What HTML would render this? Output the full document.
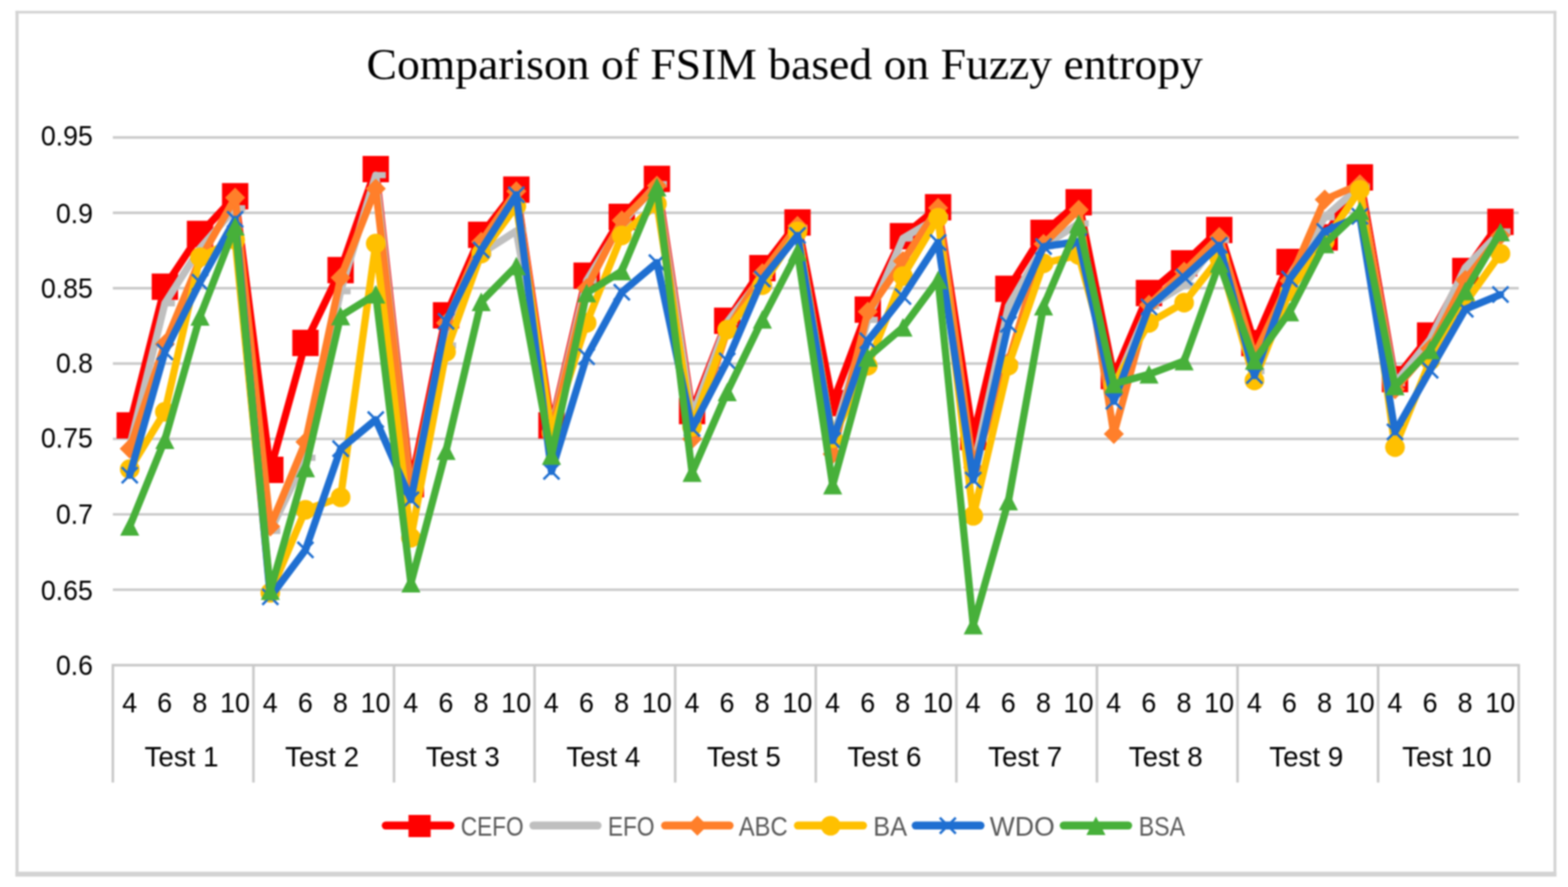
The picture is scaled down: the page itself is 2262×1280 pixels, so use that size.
<!DOCTYPE html>
<html lang="en"><head><meta charset="utf-8"><title>Comparison of FSIM based on Fuzzy entropy</title>
<style>html,body{margin:0;padding:0;background:#fff}body{width:2262px;height:1280px;overflow:hidden}svg{display:block;filter:blur(0.8px)}.ax{font-family:"Liberation Sans",sans-serif;font-size:40px;fill:#000}.lg{font-family:"Liberation Sans",sans-serif;font-size:39.5px;fill:#595959}.tt{font-family:"Liberation Serif",serif;font-size:63.6px;fill:#000}</style></head><body>
<svg width="2262" height="1280" viewBox="0 0 2262 1280">
<rect x="0" y="0" width="2262" height="1280" fill="#ffffff"/>
<g fill="#d3d3d3">
<rect x="22.4" y="15.7" width="2222.8" height="3.7"/>
<rect x="22.4" y="15.7" width="4.4" height="1249.3"/>
<rect x="2241.1" y="15.7" width="4.1" height="1249.3"/>
<rect x="22.4" y="1257.9" width="2222.8" height="7.1"/>
</g>
<text class="tt" x="1132" y="113.8" text-anchor="middle" textLength="1206.5" lengthAdjust="spacingAndGlyphs">Comparison of FSIM based on Fuzzy entropy</text>
<g stroke="#c9c9c9" stroke-width="3.7" fill="none">
<line x1="162.8" y1="851.02" x2="2190.9" y2="851.02"/>
<line x1="162.8" y1="742.24" x2="2190.9" y2="742.24"/>
<line x1="162.8" y1="633.46" x2="2190.9" y2="633.46"/>
<line x1="162.8" y1="524.68" x2="2190.9" y2="524.68"/>
<line x1="162.8" y1="415.9" x2="2190.9" y2="415.9"/>
<line x1="162.8" y1="307.12" x2="2190.9" y2="307.12"/>
<line x1="162.8" y1="198.34" x2="2190.9" y2="198.34"/>
<line x1="161.1" y1="959.8" x2="2192.6" y2="959.8"/>
<line x1="162.8" y1="959.8" x2="162.8" y2="1129.3"/>
<line x1="365.61" y1="959.8" x2="365.61" y2="1129.3"/>
<line x1="568.42" y1="959.8" x2="568.42" y2="1129.3"/>
<line x1="771.23" y1="959.8" x2="771.23" y2="1129.3"/>
<line x1="974.04" y1="959.8" x2="974.04" y2="1129.3"/>
<line x1="1176.85" y1="959.8" x2="1176.85" y2="1129.3"/>
<line x1="1379.66" y1="959.8" x2="1379.66" y2="1129.3"/>
<line x1="1582.47" y1="959.8" x2="1582.47" y2="1129.3"/>
<line x1="1785.28" y1="959.8" x2="1785.28" y2="1129.3"/>
<line x1="1988.09" y1="959.8" x2="1988.09" y2="1129.3"/>
<line x1="2190.9" y1="959.8" x2="2190.9" y2="1129.3"/>
</g>
<g class="ax" text-anchor="end">
<text x="134" y="973.7" textLength="53.3" lengthAdjust="spacingAndGlyphs">0.6</text>
<text x="134" y="865.7" textLength="75.1" lengthAdjust="spacingAndGlyphs">0.65</text>
<text x="134" y="756.4" textLength="53.3" lengthAdjust="spacingAndGlyphs">0.7</text>
<text x="134" y="646.1" textLength="75.1" lengthAdjust="spacingAndGlyphs">0.75</text>
<text x="134" y="537.5" textLength="53.3" lengthAdjust="spacingAndGlyphs">0.8</text>
<text x="134" y="429.6" textLength="75.1" lengthAdjust="spacingAndGlyphs">0.85</text>
<text x="134" y="321.7" textLength="53.3" lengthAdjust="spacingAndGlyphs">0.9</text>
<text x="134" y="209.9" textLength="75.1" lengthAdjust="spacingAndGlyphs">0.95</text>
</g>
<g class="ax" text-anchor="middle">
<text x="186.95" y="1027.8" textLength="21.6" lengthAdjust="spacingAndGlyphs">4</text>
<text x="237.65" y="1027.8" textLength="21.6" lengthAdjust="spacingAndGlyphs">6</text>
<text x="288.36" y="1027.8" textLength="21.6" lengthAdjust="spacingAndGlyphs">8</text>
<text x="339.06" y="1027.8" textLength="43.2" lengthAdjust="spacingAndGlyphs">10</text>
<text x="389.76" y="1027.8" textLength="21.6" lengthAdjust="spacingAndGlyphs">4</text>
<text x="440.46" y="1027.8" textLength="21.6" lengthAdjust="spacingAndGlyphs">6</text>
<text x="491.17" y="1027.8" textLength="21.6" lengthAdjust="spacingAndGlyphs">8</text>
<text x="541.87" y="1027.8" textLength="43.2" lengthAdjust="spacingAndGlyphs">10</text>
<text x="592.57" y="1027.8" textLength="21.6" lengthAdjust="spacingAndGlyphs">4</text>
<text x="643.27" y="1027.8" textLength="21.6" lengthAdjust="spacingAndGlyphs">6</text>
<text x="693.98" y="1027.8" textLength="21.6" lengthAdjust="spacingAndGlyphs">8</text>
<text x="744.68" y="1027.8" textLength="43.2" lengthAdjust="spacingAndGlyphs">10</text>
<text x="795.38" y="1027.8" textLength="21.6" lengthAdjust="spacingAndGlyphs">4</text>
<text x="846.08" y="1027.8" textLength="21.6" lengthAdjust="spacingAndGlyphs">6</text>
<text x="896.79" y="1027.8" textLength="21.6" lengthAdjust="spacingAndGlyphs">8</text>
<text x="947.49" y="1027.8" textLength="43.2" lengthAdjust="spacingAndGlyphs">10</text>
<text x="998.19" y="1027.8" textLength="21.6" lengthAdjust="spacingAndGlyphs">4</text>
<text x="1048.89" y="1027.8" textLength="21.6" lengthAdjust="spacingAndGlyphs">6</text>
<text x="1099.6" y="1027.8" textLength="21.6" lengthAdjust="spacingAndGlyphs">8</text>
<text x="1150.3" y="1027.8" textLength="43.2" lengthAdjust="spacingAndGlyphs">10</text>
<text x="1201" y="1027.8" textLength="21.6" lengthAdjust="spacingAndGlyphs">4</text>
<text x="1251.7" y="1027.8" textLength="21.6" lengthAdjust="spacingAndGlyphs">6</text>
<text x="1302.41" y="1027.8" textLength="21.6" lengthAdjust="spacingAndGlyphs">8</text>
<text x="1353.11" y="1027.8" textLength="43.2" lengthAdjust="spacingAndGlyphs">10</text>
<text x="1403.81" y="1027.8" textLength="21.6" lengthAdjust="spacingAndGlyphs">4</text>
<text x="1454.51" y="1027.8" textLength="21.6" lengthAdjust="spacingAndGlyphs">6</text>
<text x="1505.22" y="1027.8" textLength="21.6" lengthAdjust="spacingAndGlyphs">8</text>
<text x="1555.92" y="1027.8" textLength="43.2" lengthAdjust="spacingAndGlyphs">10</text>
<text x="1606.62" y="1027.8" textLength="21.6" lengthAdjust="spacingAndGlyphs">4</text>
<text x="1657.32" y="1027.8" textLength="21.6" lengthAdjust="spacingAndGlyphs">6</text>
<text x="1708.03" y="1027.8" textLength="21.6" lengthAdjust="spacingAndGlyphs">8</text>
<text x="1758.73" y="1027.8" textLength="43.2" lengthAdjust="spacingAndGlyphs">10</text>
<text x="1809.43" y="1027.8" textLength="21.6" lengthAdjust="spacingAndGlyphs">4</text>
<text x="1860.13" y="1027.8" textLength="21.6" lengthAdjust="spacingAndGlyphs">6</text>
<text x="1910.84" y="1027.8" textLength="21.6" lengthAdjust="spacingAndGlyphs">8</text>
<text x="1961.54" y="1027.8" textLength="43.2" lengthAdjust="spacingAndGlyphs">10</text>
<text x="2012.24" y="1027.8" textLength="21.6" lengthAdjust="spacingAndGlyphs">4</text>
<text x="2062.94" y="1027.8" textLength="21.6" lengthAdjust="spacingAndGlyphs">6</text>
<text x="2113.65" y="1027.8" textLength="21.6" lengthAdjust="spacingAndGlyphs">8</text>
<text x="2164.35" y="1027.8" textLength="43.2" lengthAdjust="spacingAndGlyphs">10</text>
<text x="261.91" y="1106.4">Test 1</text>
<text x="464.72" y="1106.4">Test 2</text>
<text x="667.53" y="1106.4">Test 3</text>
<text x="870.34" y="1106.4">Test 4</text>
<text x="1073.14" y="1106.4">Test 5</text>
<text x="1275.95" y="1106.4">Test 6</text>
<text x="1478.77" y="1106.4">Test 7</text>
<text x="1681.58" y="1106.4">Test 8</text>
<text x="1884.38" y="1106.4">Test 9</text>
<text x="2087.19" y="1106.4">Test 10</text>
</g>
<g id="s-CEFO">
<polyline points="187.15,613.88 237.85,413.72 288.56,337.58 339.26,283.19 389.96,678.06 440.66,494.87 491.37,389.79 542.07,244.03 592.77,698.73 643.47,455.06 694.18,338.88 744.88,273.62 795.58,613.88 846.28,397.84 896.99,312.99 947.69,258.17 998.39,593.21 1049.09,462.89 1099.8,386.96 1150.5,321.04 1201.2,581.68 1251.9,446.79 1302.61,340.84 1353.31,299.07 1404.01,630.63 1454.71,416.77 1505.42,336.06 1556.12,291.89 1606.82,542.74 1657.52,422.86 1708.23,380 1758.93,331.92 1809.63,495.09 1860.33,378.04 1911.04,342.58 1961.74,255.99 2012.44,547.09 2063.14,484.21 2113.85,391.1 2164.55,320.17" fill="none" stroke="#ff0000" stroke-width="10.5" stroke-linejoin="round" stroke-linecap="round"/>
<rect x="168.15" y="594.88" width="38" height="38" fill="#ff0000"/>
<rect x="218.85" y="394.72" width="38" height="38" fill="#ff0000"/>
<rect x="269.56" y="318.58" width="38" height="38" fill="#ff0000"/>
<rect x="320.26" y="264.19" width="38" height="38" fill="#ff0000"/>
<rect x="370.96" y="659.06" width="38" height="38" fill="#ff0000"/>
<rect x="421.66" y="475.87" width="38" height="38" fill="#ff0000"/>
<rect x="472.37" y="370.79" width="38" height="38" fill="#ff0000"/>
<rect x="523.07" y="225.03" width="38" height="38" fill="#ff0000"/>
<rect x="573.77" y="679.73" width="38" height="38" fill="#ff0000"/>
<rect x="624.47" y="436.06" width="38" height="38" fill="#ff0000"/>
<rect x="675.18" y="319.88" width="38" height="38" fill="#ff0000"/>
<rect x="725.88" y="254.62" width="38" height="38" fill="#ff0000"/>
<rect x="776.58" y="594.88" width="38" height="38" fill="#ff0000"/>
<rect x="827.28" y="378.84" width="38" height="38" fill="#ff0000"/>
<rect x="877.99" y="293.99" width="38" height="38" fill="#ff0000"/>
<rect x="928.69" y="239.17" width="38" height="38" fill="#ff0000"/>
<rect x="979.39" y="574.21" width="38" height="38" fill="#ff0000"/>
<rect x="1030.09" y="443.89" width="38" height="38" fill="#ff0000"/>
<rect x="1080.8" y="367.96" width="38" height="38" fill="#ff0000"/>
<rect x="1131.5" y="302.04" width="38" height="38" fill="#ff0000"/>
<rect x="1182.2" y="562.68" width="38" height="38" fill="#ff0000"/>
<rect x="1232.9" y="427.79" width="38" height="38" fill="#ff0000"/>
<rect x="1283.61" y="321.84" width="38" height="38" fill="#ff0000"/>
<rect x="1334.31" y="280.07" width="38" height="38" fill="#ff0000"/>
<rect x="1385.01" y="611.63" width="38" height="38" fill="#ff0000"/>
<rect x="1435.71" y="397.77" width="38" height="38" fill="#ff0000"/>
<rect x="1486.42" y="317.06" width="38" height="38" fill="#ff0000"/>
<rect x="1537.12" y="272.89" width="38" height="38" fill="#ff0000"/>
<rect x="1587.82" y="523.74" width="38" height="38" fill="#ff0000"/>
<rect x="1638.52" y="403.86" width="38" height="38" fill="#ff0000"/>
<rect x="1689.23" y="361" width="38" height="38" fill="#ff0000"/>
<rect x="1739.93" y="312.92" width="38" height="38" fill="#ff0000"/>
<rect x="1790.63" y="476.09" width="38" height="38" fill="#ff0000"/>
<rect x="1841.33" y="359.04" width="38" height="38" fill="#ff0000"/>
<rect x="1892.04" y="323.58" width="38" height="38" fill="#ff0000"/>
<rect x="1942.74" y="236.99" width="38" height="38" fill="#ff0000"/>
<rect x="1993.44" y="528.09" width="38" height="38" fill="#ff0000"/>
<rect x="2044.14" y="465.21" width="38" height="38" fill="#ff0000"/>
<rect x="2094.85" y="372.1" width="38" height="38" fill="#ff0000"/>
<rect x="2145.55" y="301.17" width="38" height="38" fill="#ff0000"/>
</g>
<g id="s-EFO">
<polyline points="187.15,644.34 237.85,437.66 288.56,358.25 339.26,300.59 389.96,766.17 440.66,660.65 491.37,420.25 542.07,252.73 592.77,709.61 643.47,498.57 694.18,365.86 744.88,333.23 795.58,618.23 846.28,405.02 896.99,322.35 947.69,265.78 998.39,600.83 1049.09,464.85 1099.8,398.5 1150.5,328.88 1201.2,633.46 1251.9,461.59 1302.61,344.11 1353.31,313.65 1404.01,676.97 1454.71,442.01 1505.42,354.98 1556.12,322.35 1606.82,559.49 1657.52,442.01 1708.23,411.55 1758.93,346.28 1809.63,535.56 1860.33,398.5 1911.04,313.65 1961.74,269.05 2012.44,552.96 2063.14,489.87 2113.85,386.09 2164.55,334.1" fill="none" stroke="#bfbfbf" stroke-width="10.5" stroke-linejoin="round" stroke-linecap="round"/>
<rect x="187.15" y="639.84" width="14.5" height="9" fill="#bfbfbf"/>
<rect x="237.85" y="433.16" width="14.5" height="9" fill="#bfbfbf"/>
<rect x="288.56" y="353.75" width="14.5" height="9" fill="#bfbfbf"/>
<rect x="339.26" y="296.09" width="14.5" height="9" fill="#bfbfbf"/>
<rect x="389.96" y="761.67" width="14.5" height="9" fill="#bfbfbf"/>
<rect x="440.66" y="656.15" width="14.5" height="9" fill="#bfbfbf"/>
<rect x="491.37" y="415.75" width="14.5" height="9" fill="#bfbfbf"/>
<rect x="542.07" y="248.23" width="14.5" height="9" fill="#bfbfbf"/>
<rect x="592.77" y="705.11" width="14.5" height="9" fill="#bfbfbf"/>
<rect x="643.47" y="494.07" width="14.5" height="9" fill="#bfbfbf"/>
<rect x="694.18" y="361.36" width="14.5" height="9" fill="#bfbfbf"/>
<rect x="744.88" y="328.73" width="14.5" height="9" fill="#bfbfbf"/>
<rect x="795.58" y="613.73" width="14.5" height="9" fill="#bfbfbf"/>
<rect x="846.28" y="400.52" width="14.5" height="9" fill="#bfbfbf"/>
<rect x="896.99" y="317.85" width="14.5" height="9" fill="#bfbfbf"/>
<rect x="947.69" y="261.28" width="14.5" height="9" fill="#bfbfbf"/>
<rect x="998.39" y="596.33" width="14.5" height="9" fill="#bfbfbf"/>
<rect x="1049.09" y="460.35" width="14.5" height="9" fill="#bfbfbf"/>
<rect x="1099.8" y="394" width="14.5" height="9" fill="#bfbfbf"/>
<rect x="1150.5" y="324.38" width="14.5" height="9" fill="#bfbfbf"/>
<rect x="1201.2" y="628.96" width="14.5" height="9" fill="#bfbfbf"/>
<rect x="1251.9" y="457.09" width="14.5" height="9" fill="#bfbfbf"/>
<rect x="1302.61" y="339.61" width="14.5" height="9" fill="#bfbfbf"/>
<rect x="1353.31" y="309.15" width="14.5" height="9" fill="#bfbfbf"/>
<rect x="1404.01" y="672.47" width="14.5" height="9" fill="#bfbfbf"/>
<rect x="1454.71" y="437.51" width="14.5" height="9" fill="#bfbfbf"/>
<rect x="1505.42" y="350.48" width="14.5" height="9" fill="#bfbfbf"/>
<rect x="1556.12" y="317.85" width="14.5" height="9" fill="#bfbfbf"/>
<rect x="1606.82" y="554.99" width="14.5" height="9" fill="#bfbfbf"/>
<rect x="1657.52" y="437.51" width="14.5" height="9" fill="#bfbfbf"/>
<rect x="1708.23" y="407.05" width="14.5" height="9" fill="#bfbfbf"/>
<rect x="1758.93" y="341.78" width="14.5" height="9" fill="#bfbfbf"/>
<rect x="1809.63" y="531.06" width="14.5" height="9" fill="#bfbfbf"/>
<rect x="1860.33" y="394" width="14.5" height="9" fill="#bfbfbf"/>
<rect x="1911.04" y="309.15" width="14.5" height="9" fill="#bfbfbf"/>
<rect x="1961.74" y="264.55" width="14.5" height="9" fill="#bfbfbf"/>
<rect x="2012.44" y="548.46" width="14.5" height="9" fill="#bfbfbf"/>
<rect x="2063.14" y="485.37" width="14.5" height="9" fill="#bfbfbf"/>
<rect x="2113.85" y="381.59" width="14.5" height="9" fill="#bfbfbf"/>
<rect x="2164.55" y="329.6" width="14.5" height="9" fill="#bfbfbf"/>
</g>
<g id="s-ABC">
<polyline points="187.15,647.6 237.85,496.4 288.56,374.56 339.26,285.36 389.96,759.64 440.66,637.81 491.37,400.67 542.07,272.31 592.77,709.61 643.47,465.94 694.18,348.89 744.88,276.01 795.58,622.58 846.28,415.9 896.99,318 947.69,267.96 998.39,633.46 1049.09,476.82 1099.8,394.14 1150.5,326.05 1201.2,655.22 1251.9,449.84 1302.61,376.74 1353.31,299.94 1404.01,674.8 1454.71,522.5 1505.42,351.94 1556.12,302.77 1606.82,626.28 1657.52,439.83 1708.23,391.97 1758.93,341.93 1809.63,513.8 1860.33,405.02 1911.04,287.97 1961.74,266 2012.44,561.67 2063.14,502.92 2113.85,403.93 2164.55,339.75" fill="none" stroke="#ff7f2a" stroke-width="10.5" stroke-linejoin="round" stroke-linecap="round"/>
<polygon points="172.65,647.6 187.15,633.1 201.65,647.6 187.15,662.1" fill="#ff7f2a"/>
<polygon points="223.35,496.4 237.85,481.9 252.35,496.4 237.85,510.9" fill="#ff7f2a"/>
<polygon points="274.06,374.56 288.56,360.06 303.06,374.56 288.56,389.06" fill="#ff7f2a"/>
<polygon points="324.76,285.36 339.26,270.86 353.76,285.36 339.26,299.86" fill="#ff7f2a"/>
<polygon points="375.46,759.64 389.96,745.14 404.46,759.64 389.96,774.14" fill="#ff7f2a"/>
<polygon points="426.16,637.81 440.66,623.31 455.16,637.81 440.66,652.31" fill="#ff7f2a"/>
<polygon points="476.87,400.67 491.37,386.17 505.87,400.67 491.37,415.17" fill="#ff7f2a"/>
<polygon points="527.57,272.31 542.07,257.81 556.57,272.31 542.07,286.81" fill="#ff7f2a"/>
<polygon points="578.27,709.61 592.77,695.11 607.27,709.61 592.77,724.11" fill="#ff7f2a"/>
<polygon points="628.97,465.94 643.47,451.44 657.97,465.94 643.47,480.44" fill="#ff7f2a"/>
<polygon points="679.68,348.89 694.18,334.39 708.68,348.89 694.18,363.39" fill="#ff7f2a"/>
<polygon points="730.38,276.01 744.88,261.51 759.38,276.01 744.88,290.51" fill="#ff7f2a"/>
<polygon points="781.08,622.58 795.58,608.08 810.08,622.58 795.58,637.08" fill="#ff7f2a"/>
<polygon points="831.78,415.9 846.28,401.4 860.78,415.9 846.28,430.4" fill="#ff7f2a"/>
<polygon points="882.49,318 896.99,303.5 911.49,318 896.99,332.5" fill="#ff7f2a"/>
<polygon points="933.19,267.96 947.69,253.46 962.19,267.96 947.69,282.46" fill="#ff7f2a"/>
<polygon points="983.89,633.46 998.39,618.96 1012.89,633.46 998.39,647.96" fill="#ff7f2a"/>
<polygon points="1034.59,476.82 1049.09,462.32 1063.59,476.82 1049.09,491.32" fill="#ff7f2a"/>
<polygon points="1085.3,394.14 1099.8,379.64 1114.3,394.14 1099.8,408.64" fill="#ff7f2a"/>
<polygon points="1136,326.05 1150.5,311.55 1165,326.05 1150.5,340.55" fill="#ff7f2a"/>
<polygon points="1186.7,655.22 1201.2,640.72 1215.7,655.22 1201.2,669.72" fill="#ff7f2a"/>
<polygon points="1237.4,449.84 1251.9,435.34 1266.4,449.84 1251.9,464.34" fill="#ff7f2a"/>
<polygon points="1288.11,376.74 1302.61,362.24 1317.11,376.74 1302.61,391.24" fill="#ff7f2a"/>
<polygon points="1338.81,299.94 1353.31,285.44 1367.81,299.94 1353.31,314.44" fill="#ff7f2a"/>
<polygon points="1389.51,674.8 1404.01,660.3 1418.51,674.8 1404.01,689.3" fill="#ff7f2a"/>
<polygon points="1440.21,522.5 1454.71,508 1469.21,522.5 1454.71,537" fill="#ff7f2a"/>
<polygon points="1490.92,351.94 1505.42,337.44 1519.92,351.94 1505.42,366.44" fill="#ff7f2a"/>
<polygon points="1541.62,302.77 1556.12,288.27 1570.62,302.77 1556.12,317.27" fill="#ff7f2a"/>
<polygon points="1592.32,626.28 1606.82,611.78 1621.32,626.28 1606.82,640.78" fill="#ff7f2a"/>
<polygon points="1643.02,439.83 1657.52,425.33 1672.02,439.83 1657.52,454.33" fill="#ff7f2a"/>
<polygon points="1693.73,391.97 1708.23,377.47 1722.73,391.97 1708.23,406.47" fill="#ff7f2a"/>
<polygon points="1744.43,341.93 1758.93,327.43 1773.43,341.93 1758.93,356.43" fill="#ff7f2a"/>
<polygon points="1795.13,513.8 1809.63,499.3 1824.13,513.8 1809.63,528.3" fill="#ff7f2a"/>
<polygon points="1845.83,405.02 1860.33,390.52 1874.83,405.02 1860.33,419.52" fill="#ff7f2a"/>
<polygon points="1896.54,287.97 1911.04,273.47 1925.54,287.97 1911.04,302.47" fill="#ff7f2a"/>
<polygon points="1947.24,266 1961.74,251.5 1976.24,266 1961.74,280.5" fill="#ff7f2a"/>
<polygon points="1997.94,561.67 2012.44,547.17 2026.94,561.67 2012.44,576.17" fill="#ff7f2a"/>
<polygon points="2048.64,502.92 2063.14,488.42 2077.64,502.92 2063.14,517.42" fill="#ff7f2a"/>
<polygon points="2099.35,403.93 2113.85,389.43 2128.35,403.93 2113.85,418.43" fill="#ff7f2a"/>
<polygon points="2150.05,339.75 2164.55,325.25 2179.05,339.75 2164.55,354.25" fill="#ff7f2a"/>
</g>
<g id="s-BA">
<polyline points="187.15,676.97 237.85,594.3 288.56,371.08 339.26,346.28 389.96,855.37 440.66,735.71 491.37,717.66 542.07,351.5 592.77,775.96 643.47,507.71 694.18,365.86 744.88,297.33 795.58,624.76 846.28,465.94 896.99,339.75 947.69,294.07 998.39,616.06 1049.09,475.73 1099.8,411.55 1150.5,333.88 1201.2,632.37 1251.9,527.73 1302.61,398.5 1353.31,314.08 1404.01,744.42 1454.71,527.73 1505.42,380 1556.12,368.04 1606.82,555.14 1657.52,465.94 1708.23,436.79 1758.93,372.39 1809.63,549.05 1860.33,420.25 1911.04,348.46 1961.74,274.05 2012.44,645.21 2063.14,520.33 2113.85,437 2164.55,366.08" fill="none" stroke="#ffc000" stroke-width="10.5" stroke-linejoin="round" stroke-linecap="round"/>
<circle cx="187.15" cy="676.97" r="14.2" fill="#ffc000"/>
<circle cx="237.85" cy="594.3" r="14.2" fill="#ffc000"/>
<circle cx="288.56" cy="371.08" r="14.2" fill="#ffc000"/>
<circle cx="339.26" cy="346.28" r="14.2" fill="#ffc000"/>
<circle cx="389.96" cy="855.37" r="14.2" fill="#ffc000"/>
<circle cx="440.66" cy="735.71" r="14.2" fill="#ffc000"/>
<circle cx="491.37" cy="717.66" r="14.2" fill="#ffc000"/>
<circle cx="542.07" cy="351.5" r="14.2" fill="#ffc000"/>
<circle cx="592.77" cy="775.96" r="14.2" fill="#ffc000"/>
<circle cx="643.47" cy="507.71" r="14.2" fill="#ffc000"/>
<circle cx="694.18" cy="365.86" r="14.2" fill="#ffc000"/>
<circle cx="744.88" cy="297.33" r="14.2" fill="#ffc000"/>
<circle cx="795.58" cy="624.76" r="14.2" fill="#ffc000"/>
<circle cx="846.28" cy="465.94" r="14.2" fill="#ffc000"/>
<circle cx="896.99" cy="339.75" r="14.2" fill="#ffc000"/>
<circle cx="947.69" cy="294.07" r="14.2" fill="#ffc000"/>
<circle cx="998.39" cy="616.06" r="14.2" fill="#ffc000"/>
<circle cx="1049.09" cy="475.73" r="14.2" fill="#ffc000"/>
<circle cx="1099.8" cy="411.55" r="14.2" fill="#ffc000"/>
<circle cx="1150.5" cy="333.88" r="14.2" fill="#ffc000"/>
<circle cx="1201.2" cy="632.37" r="14.2" fill="#ffc000"/>
<circle cx="1251.9" cy="527.73" r="14.2" fill="#ffc000"/>
<circle cx="1302.61" cy="398.5" r="14.2" fill="#ffc000"/>
<circle cx="1353.31" cy="314.08" r="14.2" fill="#ffc000"/>
<circle cx="1404.01" cy="744.42" r="14.2" fill="#ffc000"/>
<circle cx="1454.71" cy="527.73" r="14.2" fill="#ffc000"/>
<circle cx="1505.42" cy="380" r="14.2" fill="#ffc000"/>
<circle cx="1556.12" cy="368.04" r="14.2" fill="#ffc000"/>
<circle cx="1606.82" cy="555.14" r="14.2" fill="#ffc000"/>
<circle cx="1657.52" cy="465.94" r="14.2" fill="#ffc000"/>
<circle cx="1708.23" cy="436.79" r="14.2" fill="#ffc000"/>
<circle cx="1758.93" cy="372.39" r="14.2" fill="#ffc000"/>
<circle cx="1809.63" cy="549.05" r="14.2" fill="#ffc000"/>
<circle cx="1860.33" cy="420.25" r="14.2" fill="#ffc000"/>
<circle cx="1911.04" cy="348.46" r="14.2" fill="#ffc000"/>
<circle cx="1961.74" cy="274.05" r="14.2" fill="#ffc000"/>
<circle cx="2012.44" cy="645.21" r="14.2" fill="#ffc000"/>
<circle cx="2063.14" cy="520.33" r="14.2" fill="#ffc000"/>
<circle cx="2113.85" cy="437" r="14.2" fill="#ffc000"/>
<circle cx="2164.55" cy="366.08" r="14.2" fill="#ffc000"/>
</g>
<g id="s-WDO">
<polyline points="187.15,685.67 237.85,507.71 288.56,407.2 339.26,316.48 389.96,861.25 440.66,793.58 491.37,647.6 542.07,605.61 592.77,721.14 643.47,463.76 694.18,360.86 744.88,281.01 795.58,680.24 846.28,514.67 896.99,421.77 947.69,378.91 998.39,618.23 1049.09,520.76 1099.8,402.85 1150.5,339.75 1201.2,635.64 1251.9,491.83 1302.61,427.87 1353.31,349.98 1404.01,692.64 1454.71,468.11 1505.42,355.85 1556.12,348.46 1606.82,579.07 1657.52,442.88 1708.23,399.8 1758.93,353.9 1809.63,542.08 1860.33,402.85 1911.04,334.1 1961.74,312.12 2012.44,623.23 2063.14,534.25 2113.85,446.14 2164.55,425.04" fill="none" stroke="#1f6fd1" stroke-width="10.5" stroke-linejoin="round" stroke-linecap="round"/>
<g stroke="#1f6fd1" stroke-width="3.5"><line x1="175.65" y1="674.17" x2="198.65" y2="697.17"/><line x1="175.65" y1="697.17" x2="198.65" y2="674.17"/></g>
<g stroke="#1f6fd1" stroke-width="3.5"><line x1="226.35" y1="496.21" x2="249.35" y2="519.21"/><line x1="226.35" y1="519.21" x2="249.35" y2="496.21"/></g>
<g stroke="#1f6fd1" stroke-width="3.5"><line x1="277.06" y1="395.7" x2="300.06" y2="418.7"/><line x1="277.06" y1="418.7" x2="300.06" y2="395.7"/></g>
<g stroke="#1f6fd1" stroke-width="3.5"><line x1="327.76" y1="304.98" x2="350.76" y2="327.98"/><line x1="327.76" y1="327.98" x2="350.76" y2="304.98"/></g>
<g stroke="#1f6fd1" stroke-width="3.5"><line x1="378.46" y1="849.75" x2="401.46" y2="872.75"/><line x1="378.46" y1="872.75" x2="401.46" y2="849.75"/></g>
<g stroke="#1f6fd1" stroke-width="3.5"><line x1="429.16" y1="782.08" x2="452.16" y2="805.08"/><line x1="429.16" y1="805.08" x2="452.16" y2="782.08"/></g>
<g stroke="#1f6fd1" stroke-width="3.5"><line x1="479.87" y1="636.1" x2="502.87" y2="659.1"/><line x1="479.87" y1="659.1" x2="502.87" y2="636.1"/></g>
<g stroke="#1f6fd1" stroke-width="3.5"><line x1="530.57" y1="594.11" x2="553.57" y2="617.11"/><line x1="530.57" y1="617.11" x2="553.57" y2="594.11"/></g>
<g stroke="#1f6fd1" stroke-width="3.5"><line x1="581.27" y1="709.64" x2="604.27" y2="732.64"/><line x1="581.27" y1="732.64" x2="604.27" y2="709.64"/></g>
<g stroke="#1f6fd1" stroke-width="3.5"><line x1="631.97" y1="452.26" x2="654.97" y2="475.26"/><line x1="631.97" y1="475.26" x2="654.97" y2="452.26"/></g>
<g stroke="#1f6fd1" stroke-width="3.5"><line x1="682.68" y1="349.36" x2="705.68" y2="372.36"/><line x1="682.68" y1="372.36" x2="705.68" y2="349.36"/></g>
<g stroke="#1f6fd1" stroke-width="3.5"><line x1="733.38" y1="269.51" x2="756.38" y2="292.51"/><line x1="733.38" y1="292.51" x2="756.38" y2="269.51"/></g>
<g stroke="#1f6fd1" stroke-width="3.5"><line x1="784.08" y1="668.74" x2="807.08" y2="691.74"/><line x1="784.08" y1="691.74" x2="807.08" y2="668.74"/></g>
<g stroke="#1f6fd1" stroke-width="3.5"><line x1="834.78" y1="503.17" x2="857.78" y2="526.17"/><line x1="834.78" y1="526.17" x2="857.78" y2="503.17"/></g>
<g stroke="#1f6fd1" stroke-width="3.5"><line x1="885.49" y1="410.27" x2="908.49" y2="433.27"/><line x1="885.49" y1="433.27" x2="908.49" y2="410.27"/></g>
<g stroke="#1f6fd1" stroke-width="3.5"><line x1="936.19" y1="367.41" x2="959.19" y2="390.41"/><line x1="936.19" y1="390.41" x2="959.19" y2="367.41"/></g>
<g stroke="#1f6fd1" stroke-width="3.5"><line x1="986.89" y1="606.73" x2="1009.89" y2="629.73"/><line x1="986.89" y1="629.73" x2="1009.89" y2="606.73"/></g>
<g stroke="#1f6fd1" stroke-width="3.5"><line x1="1037.59" y1="509.26" x2="1060.59" y2="532.26"/><line x1="1037.59" y1="532.26" x2="1060.59" y2="509.26"/></g>
<g stroke="#1f6fd1" stroke-width="3.5"><line x1="1088.3" y1="391.35" x2="1111.3" y2="414.35"/><line x1="1088.3" y1="414.35" x2="1111.3" y2="391.35"/></g>
<g stroke="#1f6fd1" stroke-width="3.5"><line x1="1139" y1="328.25" x2="1162" y2="351.25"/><line x1="1139" y1="351.25" x2="1162" y2="328.25"/></g>
<g stroke="#1f6fd1" stroke-width="3.5"><line x1="1189.7" y1="624.14" x2="1212.7" y2="647.14"/><line x1="1189.7" y1="647.14" x2="1212.7" y2="624.14"/></g>
<g stroke="#1f6fd1" stroke-width="3.5"><line x1="1240.4" y1="480.33" x2="1263.4" y2="503.33"/><line x1="1240.4" y1="503.33" x2="1263.4" y2="480.33"/></g>
<g stroke="#1f6fd1" stroke-width="3.5"><line x1="1291.11" y1="416.37" x2="1314.11" y2="439.37"/><line x1="1291.11" y1="439.37" x2="1314.11" y2="416.37"/></g>
<g stroke="#1f6fd1" stroke-width="3.5"><line x1="1341.81" y1="338.48" x2="1364.81" y2="361.48"/><line x1="1341.81" y1="361.48" x2="1364.81" y2="338.48"/></g>
<g stroke="#1f6fd1" stroke-width="3.5"><line x1="1392.51" y1="681.14" x2="1415.51" y2="704.14"/><line x1="1392.51" y1="704.14" x2="1415.51" y2="681.14"/></g>
<g stroke="#1f6fd1" stroke-width="3.5"><line x1="1443.21" y1="456.61" x2="1466.21" y2="479.61"/><line x1="1443.21" y1="479.61" x2="1466.21" y2="456.61"/></g>
<g stroke="#1f6fd1" stroke-width="3.5"><line x1="1493.92" y1="344.35" x2="1516.92" y2="367.35"/><line x1="1493.92" y1="367.35" x2="1516.92" y2="344.35"/></g>
<g stroke="#1f6fd1" stroke-width="3.5"><line x1="1544.62" y1="336.96" x2="1567.62" y2="359.96"/><line x1="1544.62" y1="359.96" x2="1567.62" y2="336.96"/></g>
<g stroke="#1f6fd1" stroke-width="3.5"><line x1="1595.32" y1="567.57" x2="1618.32" y2="590.57"/><line x1="1595.32" y1="590.57" x2="1618.32" y2="567.57"/></g>
<g stroke="#1f6fd1" stroke-width="3.5"><line x1="1646.02" y1="431.38" x2="1669.02" y2="454.38"/><line x1="1646.02" y1="454.38" x2="1669.02" y2="431.38"/></g>
<g stroke="#1f6fd1" stroke-width="3.5"><line x1="1696.73" y1="388.3" x2="1719.73" y2="411.3"/><line x1="1696.73" y1="411.3" x2="1719.73" y2="388.3"/></g>
<g stroke="#1f6fd1" stroke-width="3.5"><line x1="1747.43" y1="342.4" x2="1770.43" y2="365.4"/><line x1="1747.43" y1="365.4" x2="1770.43" y2="342.4"/></g>
<g stroke="#1f6fd1" stroke-width="3.5"><line x1="1798.13" y1="530.58" x2="1821.13" y2="553.58"/><line x1="1798.13" y1="553.58" x2="1821.13" y2="530.58"/></g>
<g stroke="#1f6fd1" stroke-width="3.5"><line x1="1848.83" y1="391.35" x2="1871.83" y2="414.35"/><line x1="1848.83" y1="414.35" x2="1871.83" y2="391.35"/></g>
<g stroke="#1f6fd1" stroke-width="3.5"><line x1="1899.54" y1="322.6" x2="1922.54" y2="345.6"/><line x1="1899.54" y1="345.6" x2="1922.54" y2="322.6"/></g>
<g stroke="#1f6fd1" stroke-width="3.5"><line x1="1950.24" y1="300.62" x2="1973.24" y2="323.62"/><line x1="1950.24" y1="323.62" x2="1973.24" y2="300.62"/></g>
<g stroke="#1f6fd1" stroke-width="3.5"><line x1="2000.94" y1="611.73" x2="2023.94" y2="634.73"/><line x1="2000.94" y1="634.73" x2="2023.94" y2="611.73"/></g>
<g stroke="#1f6fd1" stroke-width="3.5"><line x1="2051.64" y1="522.75" x2="2074.64" y2="545.75"/><line x1="2051.64" y1="545.75" x2="2074.64" y2="522.75"/></g>
<g stroke="#1f6fd1" stroke-width="3.5"><line x1="2102.35" y1="434.64" x2="2125.35" y2="457.64"/><line x1="2102.35" y1="457.64" x2="2125.35" y2="434.64"/></g>
<g stroke="#1f6fd1" stroke-width="3.5"><line x1="2153.05" y1="413.54" x2="2176.05" y2="436.54"/><line x1="2153.05" y1="436.54" x2="2176.05" y2="413.54"/></g>
</g>
<g id="s-BSA">
<polyline points="187.15,759.64 237.85,634.55 288.56,456.58 339.26,326.7 389.96,852.33 440.66,675.23 491.37,456.15 542.07,424.6 592.77,841.66 643.47,650.43 694.18,435.48 744.88,383.92 795.58,657.39 846.28,422.86 896.99,391.1 947.69,270.13 998.39,681.98 1049.09,565.58 1099.8,460.93 1150.5,363.69 1201.2,700.03 1251.9,515.76 1302.61,472.47 1353.31,403.93 1404.01,902.15 1454.71,723.09 1505.42,441.79 1556.12,323 1606.82,554.05 1657.52,540.13 1708.23,520.98 1758.93,380 1809.63,520.11 1860.33,450.27 1911.04,352.15 1961.74,304.07 2012.44,557.1 2063.14,505.1 2113.85,420.03 2164.55,334.97" fill="none" stroke="#47b03a" stroke-width="10.5" stroke-linejoin="round" stroke-linecap="round"/>
<polygon points="173.35,773.04 187.15,746.24 200.95,773.04" fill="#47b03a"/>
<polygon points="224.05,647.95 237.85,621.15 251.65,647.95" fill="#47b03a"/>
<polygon points="274.76,469.98 288.56,443.18 302.36,469.98" fill="#47b03a"/>
<polygon points="325.46,340.1 339.26,313.3 353.06,340.1" fill="#47b03a"/>
<polygon points="376.16,865.73 389.96,838.93 403.76,865.73" fill="#47b03a"/>
<polygon points="426.86,688.63 440.66,661.83 454.46,688.63" fill="#47b03a"/>
<polygon points="477.57,469.55 491.37,442.75 505.17,469.55" fill="#47b03a"/>
<polygon points="528.27,438 542.07,411.2 555.87,438" fill="#47b03a"/>
<polygon points="578.97,855.06 592.77,828.26 606.57,855.06" fill="#47b03a"/>
<polygon points="629.67,663.83 643.47,637.03 657.27,663.83" fill="#47b03a"/>
<polygon points="680.38,448.88 694.18,422.08 707.98,448.88" fill="#47b03a"/>
<polygon points="731.08,397.32 744.88,370.52 758.68,397.32" fill="#47b03a"/>
<polygon points="781.78,670.79 795.58,643.99 809.38,670.79" fill="#47b03a"/>
<polygon points="832.48,436.26 846.28,409.46 860.08,436.26" fill="#47b03a"/>
<polygon points="883.19,404.5 896.99,377.7 910.79,404.5" fill="#47b03a"/>
<polygon points="933.89,283.53 947.69,256.73 961.49,283.53" fill="#47b03a"/>
<polygon points="984.59,695.38 998.39,668.58 1012.19,695.38" fill="#47b03a"/>
<polygon points="1035.29,578.98 1049.09,552.18 1062.89,578.98" fill="#47b03a"/>
<polygon points="1086,474.33 1099.8,447.53 1113.6,474.33" fill="#47b03a"/>
<polygon points="1136.7,377.09 1150.5,350.29 1164.3,377.09" fill="#47b03a"/>
<polygon points="1187.4,713.43 1201.2,686.63 1215,713.43" fill="#47b03a"/>
<polygon points="1238.1,529.16 1251.9,502.36 1265.7,529.16" fill="#47b03a"/>
<polygon points="1288.81,485.87 1302.61,459.07 1316.41,485.87" fill="#47b03a"/>
<polygon points="1339.51,417.33 1353.31,390.53 1367.11,417.33" fill="#47b03a"/>
<polygon points="1390.21,915.55 1404.01,888.75 1417.81,915.55" fill="#47b03a"/>
<polygon points="1440.91,736.49 1454.71,709.69 1468.51,736.49" fill="#47b03a"/>
<polygon points="1491.62,455.19 1505.42,428.39 1519.22,455.19" fill="#47b03a"/>
<polygon points="1542.32,336.4 1556.12,309.6 1569.92,336.4" fill="#47b03a"/>
<polygon points="1593.02,567.45 1606.82,540.65 1620.62,567.45" fill="#47b03a"/>
<polygon points="1643.72,553.53 1657.52,526.73 1671.32,553.53" fill="#47b03a"/>
<polygon points="1694.43,534.38 1708.23,507.58 1722.03,534.38" fill="#47b03a"/>
<polygon points="1745.13,393.4 1758.93,366.6 1772.73,393.4" fill="#47b03a"/>
<polygon points="1795.83,533.51 1809.63,506.71 1823.43,533.51" fill="#47b03a"/>
<polygon points="1846.53,463.67 1860.33,436.87 1874.13,463.67" fill="#47b03a"/>
<polygon points="1897.24,365.55 1911.04,338.75 1924.84,365.55" fill="#47b03a"/>
<polygon points="1947.94,317.47 1961.74,290.67 1975.54,317.47" fill="#47b03a"/>
<polygon points="1998.64,570.5 2012.44,543.7 2026.24,570.5" fill="#47b03a"/>
<polygon points="2049.34,518.5 2063.14,491.7 2076.94,518.5" fill="#47b03a"/>
<polygon points="2100.05,433.43 2113.85,406.63 2127.65,433.43" fill="#47b03a"/>
<polygon points="2150.75,348.37 2164.55,321.57 2178.35,348.37" fill="#47b03a"/>
</g>
<line x1="556.5" y1="1191.3" x2="649.9" y2="1191.3" stroke="#ff0000" stroke-width="11.6" stroke-linecap="round"/>
<rect x="589.3" y="1176" width="32" height="32" fill="#ff0000"/>
<text class="lg" x="664.7" y="1205.5" textLength="90.7" lengthAdjust="spacingAndGlyphs">CEFO</text>
<line x1="769.5" y1="1191.3" x2="862.1" y2="1191.3" stroke="#bfbfbf" stroke-width="11.6" stroke-linecap="round"/>
<text class="lg" x="876.9" y="1205.5" textLength="67.3" lengthAdjust="spacingAndGlyphs">EFO</text>
<line x1="959.5" y1="1191.3" x2="1052.5" y2="1191.3" stroke="#ff7f2a" stroke-width="11.6" stroke-linecap="round"/>
<polygon points="991.5,1191.6 1006,1177.1 1020.5,1191.6 1006,1206.1" fill="#ff7f2a"/>
<text class="lg" x="1065.7" y="1205.5" textLength="70.7" lengthAdjust="spacingAndGlyphs">ABC</text>
<line x1="1151.1" y1="1191.3" x2="1245" y2="1191.3" stroke="#ffc000" stroke-width="11.6" stroke-linecap="round"/>
<circle cx="1198.2" cy="1191.6" r="14.2" fill="#ffc000"/>
<text class="lg" x="1259.8" y="1205.5" textLength="48.7" lengthAdjust="spacingAndGlyphs">BA</text>
<line x1="1321" y1="1191.3" x2="1414.5" y2="1191.3" stroke="#1f6fd1" stroke-width="11.6" stroke-linecap="round"/>
<g stroke="#1f6fd1" stroke-width="3.5"><line x1="1355.8" y1="1180.1" x2="1378.8" y2="1203.1"/><line x1="1355.8" y1="1203.1" x2="1378.8" y2="1180.1"/></g>
<text class="lg" x="1427.8" y="1205.5" textLength="93.7" lengthAdjust="spacingAndGlyphs">WDO</text>
<line x1="1534.5" y1="1191.3" x2="1627.5" y2="1191.3" stroke="#47b03a" stroke-width="11.6" stroke-linecap="round"/>
<polygon points="1567.2,1205 1581,1178.2 1594.8,1205" fill="#47b03a"/>
<text class="lg" x="1642.7" y="1205.5" textLength="66.8" lengthAdjust="spacingAndGlyphs">BSA</text>
</svg></body></html>
